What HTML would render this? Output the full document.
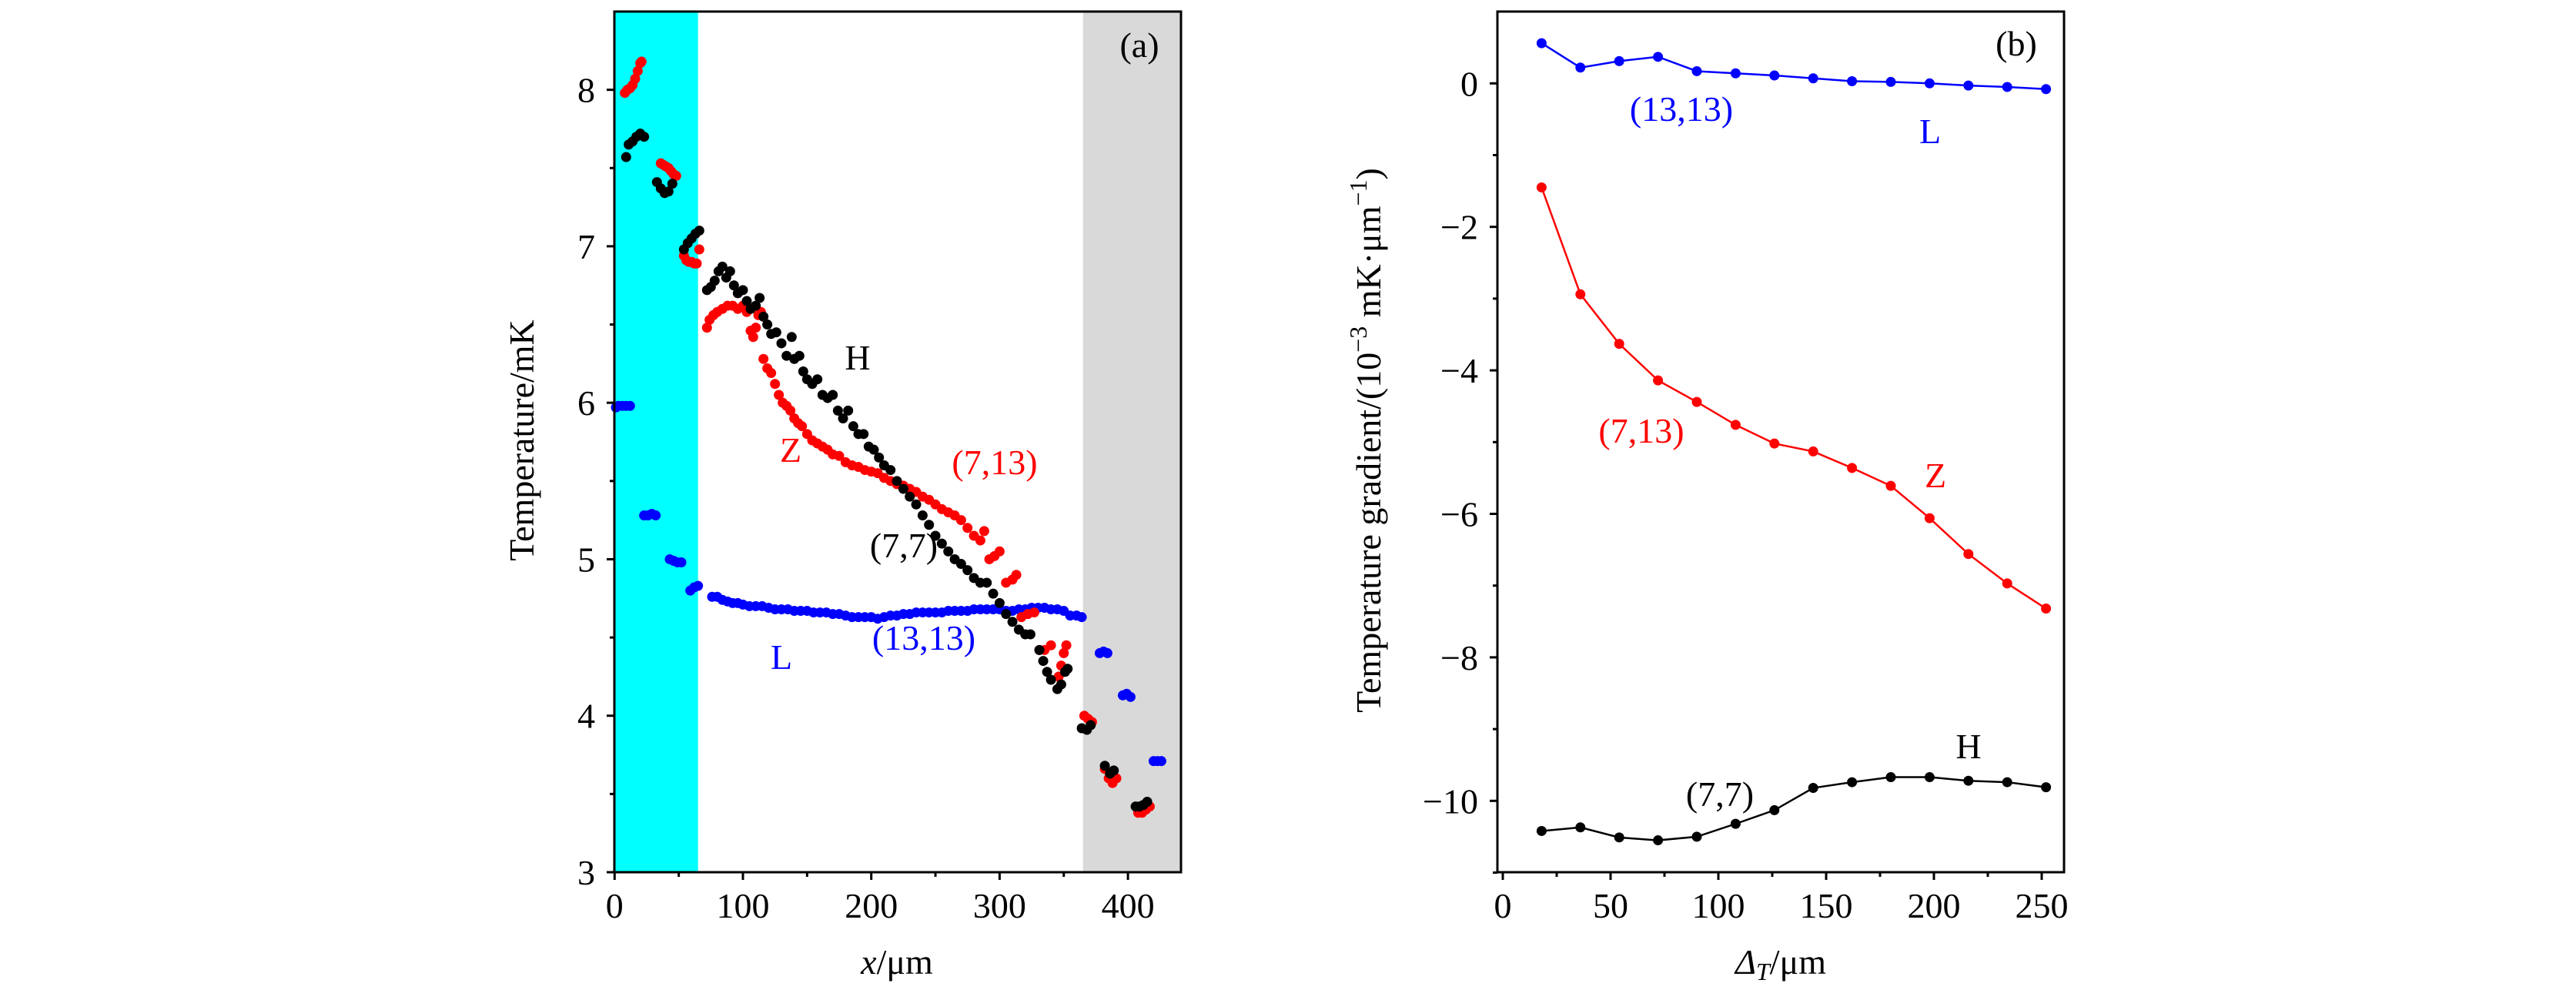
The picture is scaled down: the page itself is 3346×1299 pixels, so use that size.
<!DOCTYPE html>
<html><head><meta charset="utf-8"><style>html,body{margin:0;padding:0;background:#fff}svg{display:block}text{font-family:"Liberation Serif","DejaVu Serif",serif}</style></head>
<body>
<svg id="fig" width="3346" height="1299" viewBox="0 0 3346 1299" xmlns="http://www.w3.org/2000/svg">
<g id="pa"></g>
<g id="pb"></g>
</svg>
<script>
// ---------- Panel (a) data ----------
const aRedX=[8,10,12,14,16,18,20,21, 36,38,40,42,44,46,48, 54,56,58,60,62,64,66,
72,74,77,80,84,88,92,96,100,103,106,108,110,112,114,116,119,122,125,128,131,134,137,140,143,146,150,154,158,162,166,170,175,180,185,190,195,200,205,210,215,220,225,230,235,240,245,250,255,260,265,270,275,280,285,288,292,296,300,305,310,313,317,322,327,
331,335,340,346,348,350,352, 366,369,372, 382,385,388,391, 408,411,414,417];
const aRedY=[7.98,8.0,8.01,8.03,8.07,8.12,8.17,8.18, 7.53,7.52,7.51,7.50,7.48,7.46,7.45, 6.94,6.91,6.9,6.9,6.89,6.89,6.98,
6.48,6.53,6.56,6.58,6.6,6.62,6.62,6.6,6.62,6.58,6.46,6.42,6.48,6.56,6.58,6.28,6.22,6.19,6.12,6.05,6.0,5.98,5.95,5.9,5.87,5.85,5.8,5.76,5.74,5.72,5.7,5.67,5.66,5.62,5.6,5.59,5.57,5.56,5.55,5.52,5.5,5.48,5.47,5.45,5.43,5.4,5.38,5.35,5.32,5.3,5.28,5.25,5.2,5.15,5.12,5.18,5.0,5.02,5.05,4.85,4.87,4.9,4.63,4.65,4.66,
4.42,4.42,4.45,4.25,4.32,4.4,4.45, 4.0,3.98,3.96, 3.66,3.6,3.57,3.6, 3.38,3.38,3.4,3.42];
const aBlackX=[9,11,14,17,20,23, 33,36,39,42,45, 54,57,60,63,66,
72,75,78,81,84,87,90,93,96,100,103,106,110,113,116,119,122,126,130,134,138,140,144,147,150,154,158,162,166,170,174,178,182,186,190,194,198,202,206,210,215,220,225,230,235,240,245,250,255,260,265,270,275,280,285,290,295,300,305,310,315,320,324,
331,334,337,340,345,348,351,353, 364,368,371, 382,386,389, 406,409,412,415];
const aBlackY=[7.57,7.65,7.67,7.7,7.72,7.7, 7.41,7.37,7.34,7.35,7.4, 6.98,7.02,7.05,7.08,7.1,
6.72,6.74,6.78,6.84,6.87,6.8,6.84,6.75,6.7,6.72,6.65,6.6,6.62,6.67,6.55,6.5,6.44,6.45,6.38,6.3,6.42,6.28,6.3,6.2,6.15,6.12,6.15,6.05,6.03,6.05,5.95,5.9,5.95,5.85,5.8,5.8,5.72,5.7,5.65,5.6,5.57,5.5,5.45,5.4,5.35,5.28,5.22,5.15,5.1,5.05,5.0,4.97,4.93,4.88,4.85,4.85,4.78,4.72,4.65,4.6,4.55,4.52,4.52,
4.42,4.35,4.28,4.23,4.17,4.2,4.28,4.3, 3.92,3.91,3.94, 3.68,3.63,3.65, 3.42,3.42,3.43,3.45];
const aBlueX=[1,3,6,9,12, 23,26,29,32, 43,46,49,52, 59,62,65,
76,80,84,88,92,96,100,105,110,115,120,125,130,135,140,145,150,155,160,165,170,175,180,185,190,195,200,205,210,215,220,225,230,235,240,245,250,255,260,265,270,275,280,285,290,295,300,305,310,315,320,325,330,335,340,345,350,355,360,364,
378,381,384, 396,399,402, 420,423,426];
const aBlueY=[5.97,5.98,5.98,5.98,5.98, 5.28,5.28,5.29,5.28, 5.0,4.99,4.98,4.98, 4.8,4.82,4.83,
4.76,4.76,4.74,4.73,4.72,4.72,4.71,4.7,4.7,4.7,4.69,4.68,4.68,4.68,4.67,4.67,4.67,4.66,4.66,4.66,4.65,4.65,4.64,4.63,4.63,4.63,4.63,4.62,4.63,4.64,4.64,4.65,4.65,4.66,4.66,4.66,4.66,4.66,4.67,4.67,4.67,4.67,4.68,4.68,4.68,4.68,4.68,4.67,4.67,4.68,4.68,4.69,4.69,4.69,4.68,4.68,4.67,4.64,4.64,4.63,
4.4,4.41,4.4, 4.13,4.14,4.12, 3.71,3.71,3.71];
const aXTicks=[0,100,200,300,400];
const aYTicks=[3,4,5,6,7,8];
const aXTickLabels=["0","100","200","300","400"];
const aYTickLabels=["3","4","5","6","7","8"];

// ---------- Panel (b) data ----------
const bX=[18,36,54,72,90,108,126,144,162,180,198,216,234,252];
const bL=[0.56,0.22,0.31,0.37,0.17,0.14,0.11,0.07,0.03,0.02,0.0,-0.03,-0.05,-0.08];
const bZ=[-1.45,-2.94,-3.63,-4.14,-4.44,-4.76,-5.02,-5.13,-5.36,-5.61,-6.06,-6.56,-6.97,-7.32];
const bH=[-10.42,-10.37,-10.51,-10.55,-10.5,-10.32,-10.13,-9.82,-9.74,-9.67,-9.67,-9.72,-9.74,-9.81];
const bXTicks=[0,50,100,150,200,250];
const bYTicks=[0,-2,-4,-6,-8,-10];
const bXTickLabels=["0","50","100","150","200","250"];
const bYTickLabels=["0","\u22122","\u22124","\u22126","\u22128","\u221210"];

const NS="http://www.w3.org/2000/svg";
function mk(parent,tag,attrs,txt){const e=document.createElementNS(NS,tag);for(const k in attrs)e.setAttribute(k,attrs[k]);if(txt!==undefined)e.textContent=txt;parent.appendChild(e);return e;}

// ---------- Panel (a) ----------
const pa=document.getElementById('pa');
const aL=798,aR=1534,aT=15,aB=1133;
const ax=v=>798.3+v*1.667;
const ay=v=>aB-(v-3)*(aB-aT)/5.5;
let r=mk(pa,'rect',{x:aL,y:aT,width:ax(65)-aL,height:aB-aT,fill:'#00ffff'});


r=mk(pa,'rect',{x:ax(365),y:aT,width:aR-ax(365),height:aB-aT,fill:'#d9d9d9'});


function dots(parent,xs,ys,color,name){const g=mk(parent,'g',{fill:color});for(let i=0;i<xs.length;i++){const c=mk(g,'circle',{cx:ax(xs[i]),cy:ay(ys[i]),r:6.5});}}
dots(pa,aBlueX,aBlueY,'#0000ff','series-L');
dots(pa,aRedX,aRedY,'#ff0000','series-Z');
dots(pa,aBlackX,aBlackY,'#000000','series-H');
// frame
r=mk(pa,'rect',{x:aL,y:aT,width:aR-aL,height:aB-aT,fill:'none',stroke:'#000','stroke-width':3});


aXTicks.forEach((v,i)=>{mk(pa,'line',{x1:ax(v),x2:ax(v),y1:aB,y2:aB+10,stroke:'#000','stroke-width':3});const t=mk(pa,'text',{x:ax(v),y:aB+59,'font-size':46,'text-anchor':'middle'},aXTickLabels[i]);});
[50,150,250,350].forEach(v=>mk(pa,'line',{x1:ax(v),x2:ax(v),y1:aB,y2:aB+6,stroke:'#000','stroke-width':3}));
aYTicks.forEach((v,i)=>{mk(pa,'line',{x1:aL-10,x2:aL,y1:ay(v),y2:ay(v),stroke:'#000','stroke-width':3});const t=mk(pa,'text',{x:aL-25,y:ay(v)+16,'font-size':46,'text-anchor':'end'},aYTickLabels[i]);});
[3.5,4.5,5.5,6.5,7.5].forEach(v=>mk(pa,'line',{x1:aL-6,x2:aL,y1:ay(v),y2:ay(v),stroke:'#000','stroke-width':3}));
let t=mk(pa,'text',{x:0,y:0,'font-size':46,'text-anchor':'middle',transform:'translate(693,572) rotate(-90)'},'Temperature/mK');

t=mk(pa,'text',{x:1165,y:1265,'font-size':46,'text-anchor':'middle'});

mk(t,'tspan',{'font-style':'italic'},'x');mk(t,'tspan',{},'/μm');
function lab(p,x,y,s,c,n){const e=mk(p,'text',{x:x,y:y+16,'font-size':46,'text-anchor':'middle',fill:c},s);}
lab(pa,1480,58,'(a)','#000','panel-label-a');
lab(pa,1114,464,'H','#000','label-H');
lab(pa,1027,584,'Z','#ff0000','label-Z');
lab(pa,1292,600,'(7,13)','#ff0000','label-7-13');
lab(pa,1174,708,'(7,7)','#000','label-7-7');
lab(pa,1200,828,'(13,13)','#0000ff','label-13-13');
lab(pa,1015,853,'L','#0000ff','label-L');

// ---------- Panel (b) ----------
const pb=document.getElementById('pb');
const bLft=1945,bRt=2681,bT=15,bB=1133;
const bx=v=>1952+v*2.8;
const by=v=>108.3-v*93.2;
function line(xs,ys,color,name){const g=mk(pb,'g',{});
const pts=xs.map((x,i)=>bx(x)+','+by(ys[i])).join(' ');const pl=mk(g,'polyline',{points:pts,fill:'none',stroke:color,'stroke-width':2.5});
xs.forEach((x,i)=>{const c=mk(g,'circle',{cx:bx(x),cy:by(ys[i]),r:6.5,fill:color});});}
line(bX,bL,'#0000ff','series-L-gradient');
line(bX,bZ,'#ff0000','series-Z-gradient');
line(bX,bH,'#000000','series-H-gradient');
r=mk(pb,'rect',{x:bLft,y:bT,width:bRt-bLft,height:bB-bT,fill:'none',stroke:'#000','stroke-width':3});


bXTicks.forEach((v,i)=>{mk(pb,'line',{x1:bx(v),x2:bx(v),y1:bB,y2:bB+10,stroke:'#000','stroke-width':3});const e=mk(pb,'text',{x:bx(v),y:bB+59,'font-size':46,'text-anchor':'middle'},bXTickLabels[i]);});
[25,75,125,175,225].forEach(v=>mk(pb,'line',{x1:bx(v),x2:bx(v),y1:bB,y2:bB+6,stroke:'#000','stroke-width':3}));
bYTicks.forEach((v,i)=>{mk(pb,'line',{x1:bLft-10,x2:bLft,y1:by(v),y2:by(v),stroke:'#000','stroke-width':3});const e=mk(pb,'text',{x:bLft-25,y:by(v)+16,'font-size':46,'text-anchor':'end'},bYTickLabels[i]);});
[-1,-3,-5,-7,-9,-11].forEach(v=>mk(pb,'line',{x1:bLft-6,x2:bLft,y1:by(v),y2:by(v),stroke:'#000','stroke-width':3}));
t=mk(pb,'text',{x:0,y:0,'font-size':46,'text-anchor':'middle',transform:'translate(1793,572) rotate(-90)'});

mk(t,'tspan',{},'Temperature gradient/(10');mk(t,'tspan',{dy:-18,'font-size':32},'−3');mk(t,'tspan',{dy:18},' mK·μm');mk(t,'tspan',{dy:-18,'font-size':32},'−1');mk(t,'tspan',{dy:18},')');
t=mk(pb,'text',{x:2313,y:1265,'font-size':46,'text-anchor':'middle'});

mk(t,'tspan',{'font-style':'italic'},'Δ');mk(t,'tspan',{'font-style':'italic','font-size':32,dy:8},'T');mk(t,'tspan',{dy:-8},'/μm');
lab(pb,2619,56,'(b)','#000','panel-label-b');
lab(pb,2184,141,'(13,13)','#0000ff','label-13-13-b');
lab(pb,2507,170,'L','#0000ff','label-L-b');
lab(pb,2132,559,'(7,13)','#ff0000','label-7-13-b');
lab(pb,2514,617,'Z','#ff0000','label-Z-b');
lab(pb,2557,969,'H','#000','label-H-b');
lab(pb,2234,1031,'(7,7)','#000','label-7-7-b');
</script>
</body></html>
